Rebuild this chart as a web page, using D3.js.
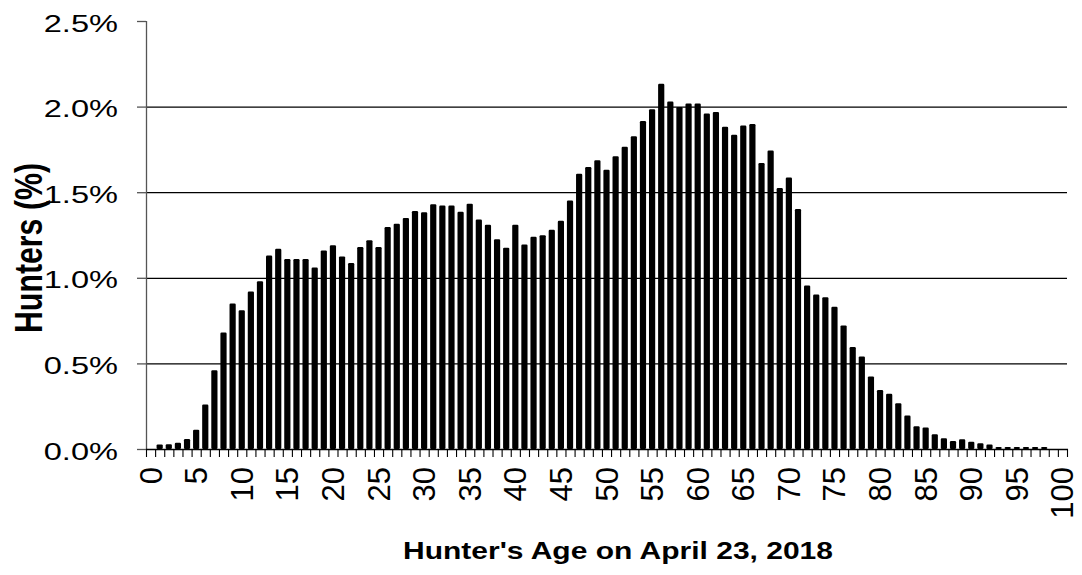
<!DOCTYPE html>
<html>
<head>
<meta charset="utf-8">
<script src="https://cdn.jsdelivr.net/npm/d3@7"></script>
<style>
  html, body { margin: 0; padding: 0; background: #fff; }
  svg { display: block; }
  text { font-family: "Liberation Sans", Arial, sans-serif; fill: #000; }
</style>
</head>
<body>
<svg id="chart" width="1082" height="575"></svg>
<script>
// ---- data ----
const ages = d3.range(0, 101);
const hunterPct = [
  0, 0.027, 0.028, 0.036, 0.058, 0.113, 0.26, 0.46, 0.68, 0.85,
  0.81, 0.92, 0.98, 1.13, 1.17, 1.11, 1.11, 1.11, 1.06, 1.16,
  1.19, 1.125, 1.086, 1.18, 1.22, 1.18, 1.296, 1.315, 1.35, 1.39,
  1.383, 1.43, 1.422, 1.422, 1.386, 1.433, 1.34, 1.31, 1.225, 1.176,
  1.31, 1.194, 1.24, 1.249, 1.28, 1.333, 1.451, 1.608, 1.647, 1.686,
  1.631, 1.71, 1.765, 1.827, 1.916, 1.984, 2.133, 2.03, 1.998, 2.018,
  2.018, 1.96, 1.969, 1.882, 1.835, 1.89, 1.898, 1.67, 1.743, 1.524,
  1.586, 1.402, 0.955, 0.902, 0.886, 0.831, 0.722, 0.596, 0.541, 0.424,
  0.345, 0.322, 0.267, 0.196, 0.133, 0.125, 0.086, 0.063, 0.047, 0.057,
  0.042, 0.034, 0.026, 0.012, 0.012, 0.012, 0.012, 0.012, 0.012, 0,
  0
];
const xTickLabels = [0, 5, 10, 15, 20, 25, 30, 35, 40, 45, 50, 55, 60, 65, 70, 75, 80, 85, 90, 95, 100];
const yTicks = [0, 0.5, 1.0, 1.5, 2.0, 2.5];
const xTitle = "Hunter's Age on April 23, 2018";
const yTitle = "Hunters (%)";

// ---- layout ----
const svg = d3.select("#chart");
const pLeft = 146, pRight = 1067, pTop = 21, pBottom = 449;

const x = d3.scaleBand().domain(ages).range([pLeft, pRight]).paddingInner(0.32).paddingOuter(0.16);
const y = d3.scaleLinear().domain([0, 2.5]).range([pBottom, pTop]);
const step = x.step();

// gridlines (no line at top)
svg.append("g").selectAll("line").data(yTicks.filter(d => d > 0 && d < 2.5)).join("line")
  .attr("x1", pLeft).attr("x2", pRight)
  .attr("y1", d => y(d) + 0.5).attr("y2", d => y(d) + 0.5)
  .attr("stroke", "#000").attr("stroke-width", 1.2);

// bars
svg.append("g").selectAll("rect").data(ages).join("rect")
  .attr("x", d => x(d))
  .attr("width", x.bandwidth())
  .attr("y", (d, i) => y(hunterPct[i]))
  .attr("height", (d, i) => y(0) - y(hunterPct[i]))
  .attr("rx", 1.2)
  .attr("fill", "#000");

// y axis
svg.append("line").attr("x1", pLeft + 0.5).attr("x2", pLeft + 0.5)
  .attr("y1", pTop).attr("y2", pBottom + 1).attr("stroke", "#555").attr("stroke-width", 1.3);
svg.append("g").selectAll("line").data(yTicks).join("line")
  .attr("x1", pLeft - 9).attr("x2", pLeft)
  .attr("y1", d => y(d) + 0.5).attr("y2", d => y(d) + 0.5)
  .attr("stroke", "#555").attr("stroke-width", 1.3);
svg.append("g").selectAll("text").data(yTicks).join("text")
  .attr("transform", d => `translate(118,${y(d) + 10.5}) scale(1.33,1)`)
  .attr("text-anchor", "end")
  .attr("font-size", 24.5)
  .text(d => d3.format(".1f")(d) + "%");

// x axis
svg.append("line").attr("x1", pLeft).attr("x2", pRight + 1)
  .attr("y1", pBottom + 0.5).attr("y2", pBottom + 0.5).attr("stroke", "#000").attr("stroke-width", 1.3);
const boundaries = ages.map(d => x(d) + x.bandwidth() / 2 - step / 2).concat([x(ages[ages.length - 1]) + x.bandwidth() / 2 + step / 2]);
svg.append("g").selectAll("line").data(boundaries).join("line")
  .attr("x1", d => d + 0.5).attr("x2", d => d + 0.5)
  .attr("y1", pBottom).attr("y2", pBottom + 8)
  .attr("stroke", "#000").attr("stroke-width", 1.1);
svg.append("g").selectAll("text").data(xTickLabels).join("text")
  .attr("transform", d => `translate(${x(d) + x.bandwidth() / 2 + 11},467) rotate(-90)`)
  .attr("text-anchor", "end")
  .attr("font-size", 31)
  .text(d => d);

// titles
svg.append("text")
  .attr("transform", `translate(618,559) scale(1.25,1)`)
  .attr("text-anchor", "middle")
  .attr("font-size", 24).attr("font-weight", "bold")
  .text(xTitle);
svg.append("text")
  .attr("transform", `translate(42,248) scale(1.29,1) rotate(-90)`)
  .attr("text-anchor", "middle")
  .attr("font-size", 30.3).attr("font-weight", "bold")
  .text(yTitle);
</script>
</body>
</html>
